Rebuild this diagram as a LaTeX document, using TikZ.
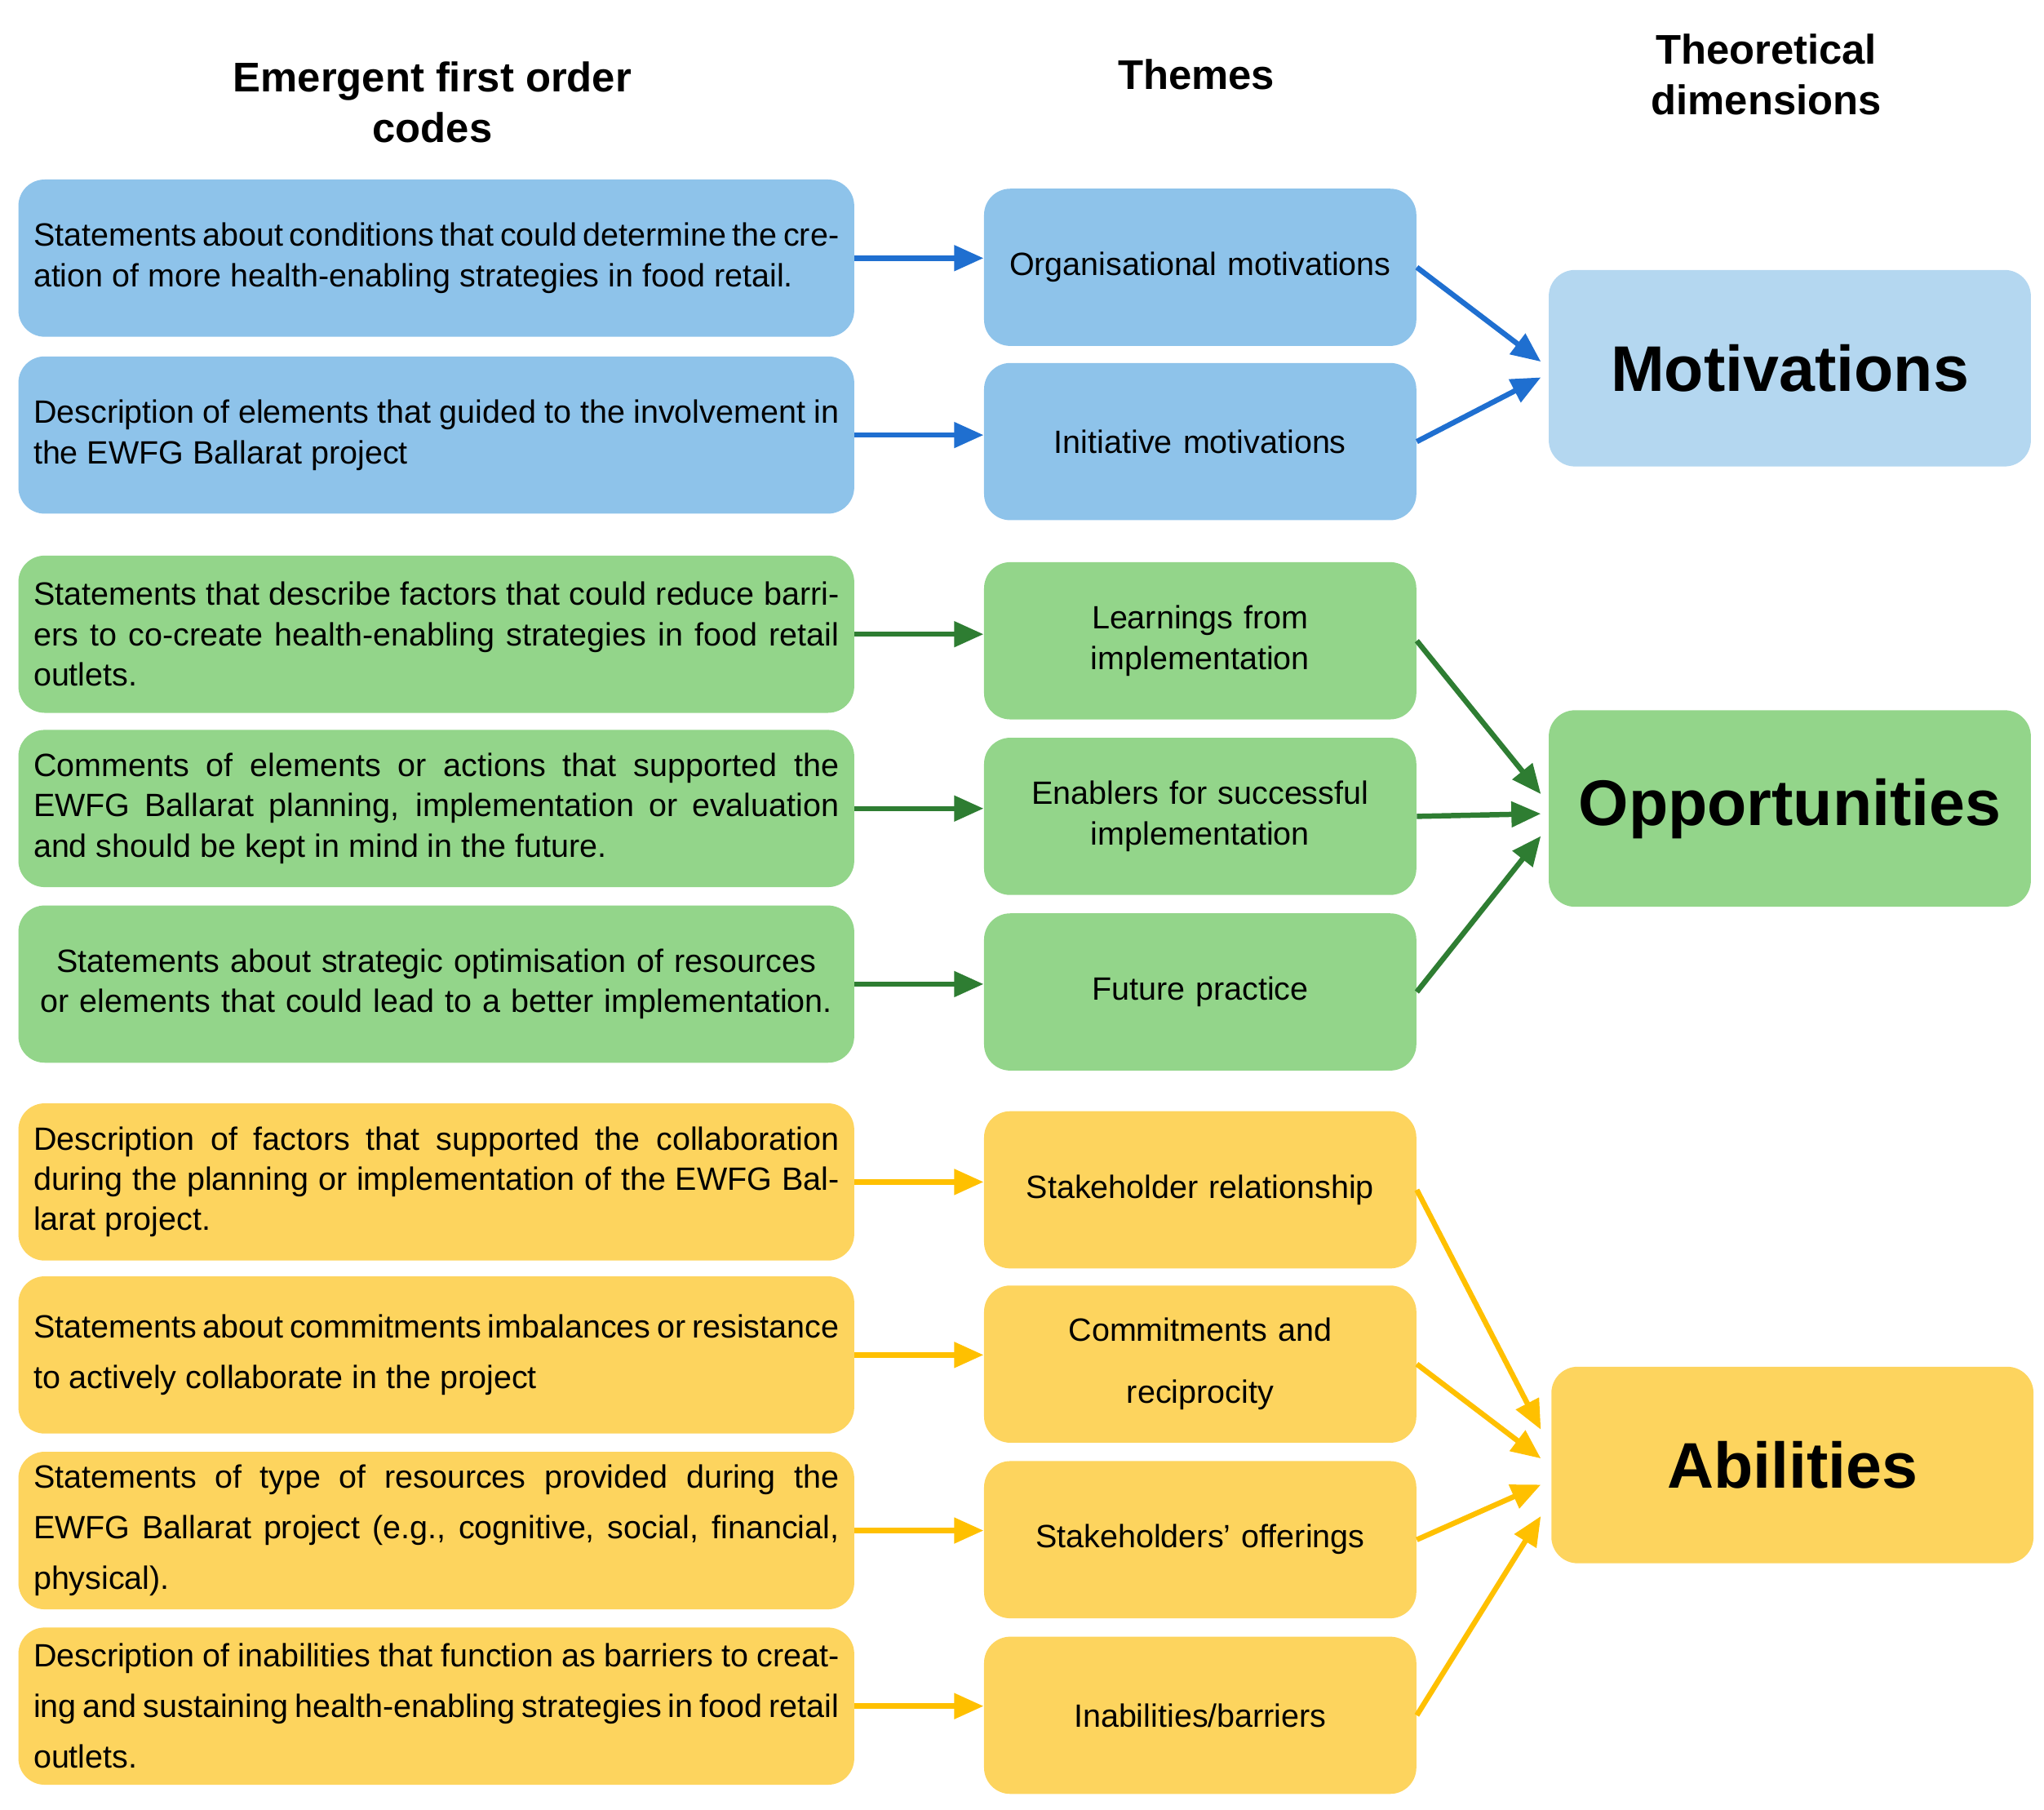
\documentclass[tikz,border=0pt]{standalone}
\usepackage{fontspec}
\setmainfont{Liberation Sans}
\usetikzlibrary{arrows.meta}
\definecolor{codeblue}{HTML}{8EC3EA}
\definecolor{dimblue}{HTML}{B4D7F0}
\definecolor{codegreen}{HTML}{93D58A}
\definecolor{codeyellow}{HTML}{FDD45E}
\definecolor{arrblue}{HTML}{1F6FD0}
\definecolor{arrgreen}{HTML}{2E7D32}
\definecolor{arryellow}{HTML}{FFC000}
\tikzset{
    box/.style={rounded corners=0.4cm, draw=none, inner sep=0.2cm},
    code/.style={box, minimum width=12.76cm, minimum height=2.4cm, text width=12.3cm, align=justify, font=\fontsize{14}{17.5}\selectfont},
    theme/.style={box, minimum width=6.56cm, minimum height=2.4cm, text width=6.2cm, align=center, font=\fontsize{14}{17.5}\selectfont},
    dim/.style={box, minimum width=7.36cm, minimum height=3cm, font=\fontsize{28}{32}\selectfont\bfseries},
    head/.style={align=center, font=\fontsize{18}{22}\selectfont\bfseries},
    arr/.style={-{Triangle[length=0.45cm,width=0.38cm]}, line width=2.3pt},
}
\begin{document}
\begin{tikzpicture}[x=0.02cm, y=-0.02cm]
    \useasboundingbox (0,0) rectangle (1560,1381);

    \node[head] (h1) at (330,78){Emergent first order\\codes};
    \node[head] (h2) at (913,57){Themes};
    \node[head] (h3) at (1348,57){Theoretical\\dimensions};

    % codes
    \node[code, fill=codeblue] (c1) at (333,197){Statements about conditions that could determine the creation of more health-enabling strategies in food retail.};
    \node[code, fill=codeblue] (c2) at (333,332){Description of elements that guided to the involvement in the EWFG Ballarat project};
    \node[code, fill=codegreen] (c3) at (333,484){Statements that describe factors that could reduce barriers to co-create health-enabling strategies in food retail outlets.};
    \node[code, fill=codegreen] (c4) at (333,617){Comments of elements or actions that supported the EWFG Ballarat planning, implementation or evaluation and should be kept in mind in the future.};
    \node[code, fill=codegreen, align=center] (c5) at (333,751){Statements about strategic optimisation of resources or elements that could lead to a better implementation.};
    \node[code, fill=codeyellow] (c6) at (333,902){Description of factors that supported the collaboration during the planning or implementation of the EWFG Ballarat project.};
    \node[code, fill=codeyellow, font=\fontsize{14}{22}\selectfont] (c7) at (333,1034){Statements about commitments imbalances or resistance to actively collaborate in the project};
    \node[code, fill=codeyellow, font=\fontsize{14}{22}\selectfont] (c8) at (333,1168){Statements of type of resources provided during the EWFG Ballarat project (e.g., cognitive, social, financial, physical).};
    \node[code, fill=codeyellow, font=\fontsize{14}{22}\selectfont] (c9) at (333,1302){Description of inabilities that function as barriers to creating and sustaining health-enabling strategies in food retail outlets.};

    % themes
    \node[theme, fill=codeblue] (t1) at (916,204){Organisational motivations};
    \node[theme, fill=codeblue] (t2) at (916,337){Initiative motivations};
    \node[theme, fill=codegreen] (t3) at (916,489){Learnings from\\implementation};
    \node[theme, fill=codegreen] (t4) at (916,623){Enablers for successful\\implementation};
    \node[theme, fill=codegreen] (t5) at (916,757){Future practice};
    \node[theme, fill=codeyellow] (t6) at (916,908){Stakeholder relationship};
    \node[theme, fill=codeyellow, font=\fontsize{14}{27}\selectfont] (t7) at (916,1041){Commitments and\\reciprocity};
    \node[theme, fill=codeyellow] (t8) at (916,1175){Stakeholders’ offerings};
    \node[theme, fill=codeyellow] (t9) at (916,1309){Inabilities/barriers};

    % dimensions
    \node[dim, fill=dimblue] (d1) at (1366,281){Motivations};
    \node[dim, fill=codegreen] (d2) at (1366,617){Opportunities};
    \node[dim, fill=codeyellow] (d3) at (1368,1118){Abilities};

    \coordinate (m1) at (1176,276);
    \coordinate (m2) at (1176,288);
    \coordinate (o1) at (1176,606);
    \coordinate (o2) at (1176,621);
    \coordinate (o3) at (1176,638);
    \coordinate (a1) at (1176,1091);
    \coordinate (a2) at (1176,1113);
    \coordinate (a3) at (1176,1133);
    \coordinate (a4) at (1176,1157);

    \draw[arr, arrblue] (c1) -- (t1.west |- c1);
    \draw[arr, arrblue] (c2) -- (t2.west |- c2);
    \draw[arr, arrgreen] (c3) -- (t3.west |- c3);
    \draw[arr, arrgreen] (c4) -- (t4.west |- c4);
    \draw[arr, arrgreen] (c5) -- (t5.west |- c5);
    \draw[arr, arryellow] (c6) -- (t6.west |- c6);
    \draw[arr, arryellow] (c7) -- (t7.west |- c7);
    \draw[arr, arryellow] (c8) -- (t8.west |- c8);
    \draw[arr, arryellow] (c9) -- (t9.west |- c9);

    \draw[arr, arrblue] (t1.east) -- (m1);
    \draw[arr, arrblue] (t2.east) -- (m2);
    \draw[arr, arrgreen] (t3.east) -- (o1);
    \draw[arr, arrgreen] (t4.east) -- (o2);
    \draw[arr, arrgreen] (t5.east) -- (o3);
    \draw[arr, arryellow] (t6.east) -- (a1);
    \draw[arr, arryellow] (t7.east) -- (a2);
    \draw[arr, arryellow] (t8.east) -- (a3);
    \draw[arr, arryellow] (t9.east) -- (a4);
\end{tikzpicture}
\end{document}
